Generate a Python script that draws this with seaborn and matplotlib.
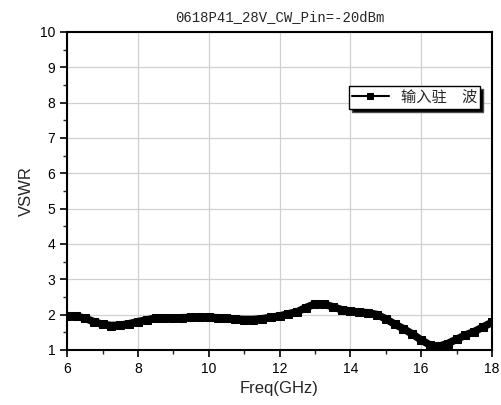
import numpy as np
import pandas as pd
import matplotlib
matplotlib.use("Agg")
import matplotlib.pyplot as plt
import seaborn as sns
from matplotlib.ticker import MultipleLocator

# data
freq = [6.0, 6.25, 6.5, 6.75, 7.0, 7.25, 7.5, 7.75, 8.0, 8.25, 8.5, 8.75,
        9.0, 9.25, 9.5, 9.75, 10.0, 10.25, 10.5, 10.75, 11.0, 11.25, 11.5, 11.75,
        12.0, 12.25, 12.5, 12.75, 13.0, 13.25, 13.5, 13.75, 14.0, 14.25, 14.5, 14.75,
        15.0, 15.25, 15.5, 15.75, 16.0, 16.25, 16.5, 16.75, 17.0, 17.25, 17.5, 17.75, 18.0]
vswr = [1.97, 1.95, 1.90, 1.80, 1.72, 1.69, 1.70, 1.74, 1.80, 1.85, 1.90, 1.90,
        1.90, 1.91, 1.92, 1.92, 1.92, 1.91, 1.90, 1.87, 1.86, 1.86, 1.88, 1.92,
        1.96, 2.02, 2.08, 2.20, 2.30, 2.30, 2.22, 2.14, 2.10, 2.07, 2.05, 2.00,
        1.88, 1.73, 1.60, 1.45, 1.28, 1.14, 1.10, 1.18, 1.30, 1.42, 1.52, 1.65, 1.78]
series_name = "输入驻　波"
title = "0618P41_28V_CW_Pin=-20dBm"

df = pd.DataFrame({"freq": freq, "vswr": vswr, "name": series_name})

sns.set_style("white")
plt.rcParams["font.family"] = ["Liberation Sans", "Noto Sans CJK SC", "DejaVu Sans"]

fig = plt.figure(figsize=(5.01, 4.05), dpi=100)
ax = fig.add_axes([0.134, 0.136, 0.848, 0.785])

sns.lineplot(data=df, x="freq", y="vswr", hue="name", palette=["black"],
             marker="s", markersize=6, linewidth=5.5, markeredgecolor="black", ax=ax)

ax.set_xlim(6, 18)
ax.set_ylim(1, 10)
ax.xaxis.set_major_locator(MultipleLocator(2))
ax.xaxis.set_minor_locator(MultipleLocator(1))
ax.yaxis.set_major_locator(MultipleLocator(1))
ax.yaxis.set_minor_locator(MultipleLocator(0.5))
ax.grid(True, which="major", color="#d0d0d0", linewidth=0.9)
ax.tick_params(which="major", direction="out", length=5, width=1.2, labelsize=10,
               left=True, bottom=True, colors="black")
ax.tick_params(which="minor", direction="out", length=3, width=1.0,
               left=True, bottom=True)
for s in ax.spines.values():
    s.set_color("black")
    s.set_linewidth(1.5)

ax.set_xlabel("Freq(GHz)", fontsize=12)
ax.set_ylabel("VSWR", fontsize=12)
ax.set_title(title, fontsize=10, family=["Liberation Mono", "DejaVu Sans Mono"], pad=8)

leg = ax.legend(loc="upper right", bbox_to_anchor=(0.99, 0.855), frameon=True,
                fancybox=False, shadow={"facecolor": "black", "alpha": 1},
                handlelength=2.4, borderpad=0.2, handletextpad=0.8,
                prop={"family": ["Noto Sans CJK SC"], "size": 11})
leg.get_frame().set_edgecolor("black")
leg.get_frame().set_linewidth(1.0)
for h in leg.legend_handles:
    h.set_linewidth(1.5)
    h.set_markersize(5)

fig.savefig("out.png", dpi=100)
